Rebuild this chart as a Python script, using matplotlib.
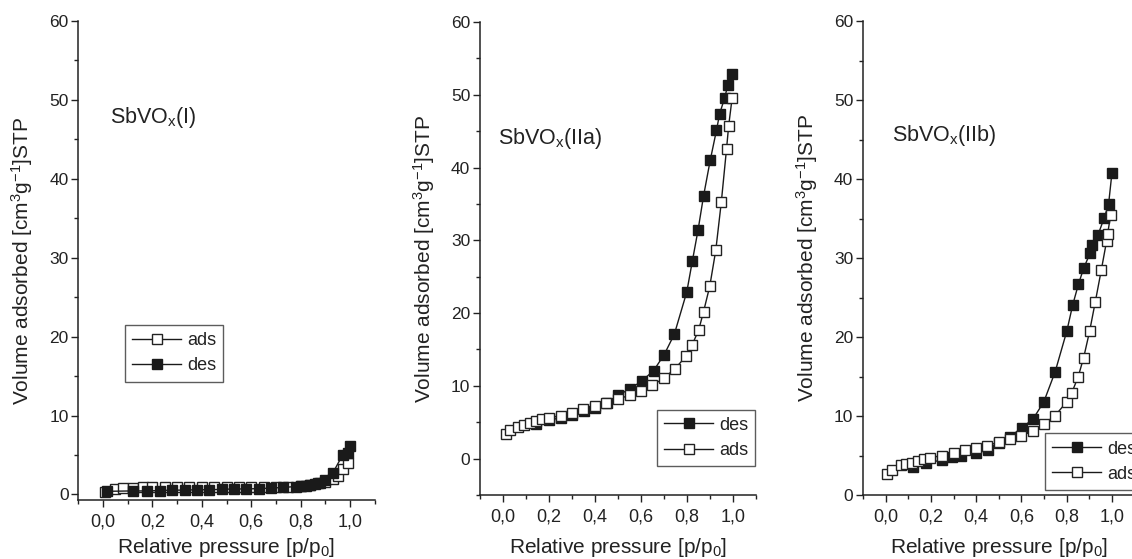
import matplotlib
matplotlib.use("Agg")
import matplotlib.pyplot as plt
from matplotlib.ticker import MultipleLocator, FuncFormatter

plt.rcParams['font.family'] = ['Liberation Sans', 'DejaVu Sans']
plt.rcParams['mathtext.fontset'] = 'custom'
plt.rcParams['mathtext.rm'] = 'Liberation Sans'
plt.rcParams['mathtext.it'] = 'Liberation Sans'
plt.rcParams['mathtext.default'] = 'regular'

# ---------------- data ----------------
# SbVOx(I)
ads_I_x = [0.01, 0.05, 0.08, 0.12, 0.16, 0.2, 0.25, 0.3, 0.35, 0.4, 0.45, 0.5, 0.55, 0.6, 0.65,
           0.7, 0.75, 0.8, 0.84, 0.87, 0.9, 0.93, 0.95, 0.97, 0.99]
ads_I_y = [0.3, 0.7, 0.8, 0.85, 0.9, 0.9, 0.95, 1.0, 1.0, 1.0, 1.0, 1.0, 1.0, 1.0, 1.0,
           1.0, 1.0, 1.1, 1.2, 1.4, 1.6, 1.9, 2.4, 3.2, 4.0]
des_I_x = [0.016, 0.12, 0.18, 0.23, 0.28, 0.33, 0.38, 0.43, 0.48, 0.53, 0.58, 0.63, 0.68, 0.73,
           0.78, 0.8, 0.82, 0.84, 0.86, 0.88, 0.9, 0.93, 0.97, 0.99, 1.0]
des_I_y = [0.4, 0.45, 0.45, 0.5, 0.55, 0.55, 0.6, 0.6, 0.65, 0.7, 0.7, 0.75, 0.8, 0.9,
           1.0, 1.05, 1.1, 1.2, 1.35, 1.5, 1.8, 2.7, 5.0, 5.3, 6.1]

# SbVOx(IIa)
ads_IIa_x = [0.012, 0.032, 0.065, 0.091, 0.119, 0.145, 0.17, 0.2, 0.251, 0.299, 0.348, 0.399,
             0.449, 0.5, 0.551, 0.601, 0.649, 0.699, 0.746, 0.797, 0.822, 0.851, 0.872, 0.899,
             0.925, 0.949, 0.972, 0.981, 0.996]
ads_IIa_y = [3.4, 3.9, 4.4, 4.66, 4.9, 5.15, 5.4, 5.6, 5.9, 6.3, 6.8, 7.2,
             7.7, 8.2, 8.7, 9.23, 10.06, 11.05, 12.3, 14.1, 15.6, 17.7, 20.2, 23.7,
             28.6, 35.2, 42.6, 45.7, 49.5]
des_IIa_x = [0.145, 0.2, 0.25, 0.3, 0.35, 0.4, 0.45, 0.5, 0.551, 0.603, 0.655, 0.701, 0.745,
             0.799, 0.823, 0.848, 0.872, 0.901, 0.928, 0.942, 0.964, 0.978, 0.996]
des_IIa_y = [4.8, 5.3, 5.6, 6.0, 6.5, 7.0, 7.6, 8.7, 9.57, 10.65, 12.1, 14.3, 17.1,
             22.9, 27.1, 31.4, 36.1, 41.0, 45.1, 47.4, 49.6, 51.4, 52.9]

# SbVOx(IIb)
ads_IIb_x = [0.006, 0.03, 0.068, 0.091, 0.115, 0.143, 0.171, 0.196, 0.248, 0.3, 0.35, 0.4,
             0.45, 0.5, 0.55, 0.6, 0.649, 0.699, 0.749, 0.8, 0.822, 0.851, 0.875, 0.901,
             0.926, 0.953, 0.976, 0.981, 0.994]
ads_IIb_y = [2.6, 3.2, 3.75, 3.9, 4.1, 4.35, 4.6, 4.7, 5.0, 5.35, 5.7, 6.0,
             6.25, 6.7, 7.1, 7.5, 8.15, 9.0, 10.05, 11.8, 12.9, 15.0, 17.4, 20.7,
             24.4, 28.5, 32.1, 33.1, 35.4]
des_IIb_x = [0.12, 0.18, 0.248, 0.295, 0.332, 0.401, 0.451, 0.5, 0.55, 0.602, 0.652, 0.699,
             0.749, 0.801, 0.826, 0.852, 0.875, 0.903, 0.913, 0.938, 0.966, 0.985, 1.0]
des_IIb_y = [3.6, 4.1, 4.4, 4.75, 4.9, 5.3, 5.7, 6.6, 7.4, 8.5, 9.65, 11.8,
             15.6, 20.8, 24.0, 26.7, 28.7, 30.6, 31.6, 32.9, 35.1, 36.8, 40.8]

titles = [r'SbVO$_\mathregular{x}$(I)', r'SbVO$_\mathregular{x}$(IIa)', r'SbVO$_\mathregular{x}$(IIb)']
xlabel = r'Relative pressure [p/p$_\mathregular{0}$]'
ylabel = r'Volume adsorbed [cm$^\mathregular{3}$g$^\mathregular{-1}$]STP'

# ---------------- figure ----------------
W, H = 1132, 559
fig = plt.figure(figsize=(W / 100, H / 100), dpi=100)

def px_axes(l, r, t, b):
    return fig.add_axes([l / W, 1 - b / H, (r - l) / W, (b - t) / H])

TXT = '#222222'
axes = [px_axes(78.3, 374.7, 21, 500),
        px_axes(480, 756, 22, 495),
        px_axes(863, 1134.6, 21, 495)]
ylims = [(-0.7, 60), (-5, 60), (0, 60)]

comma = FuncFormatter(lambda v, p: ('%.1f' % v).replace('.', ','))

for ax, yl in zip(axes, ylims):
    ax.set_xlim(-0.1, 1.1)
    ax.set_ylim(*yl)
    ax.spines['top'].set_visible(False)
    ax.spines['right'].set_visible(False)
    for s in ('left', 'bottom'):
        ax.spines[s].set_linewidth(1.1)
        ax.spines[s].set_color(TXT)
    ax.set_xticks([0.0, 0.2, 0.4, 0.6, 0.8, 1.0])
    ax.xaxis.set_major_formatter(comma)
    ax.xaxis.set_minor_locator(MultipleLocator(0.1))
    ax.set_yticks([0, 10, 20, 30, 40, 50, 60])
    ax.yaxis.set_minor_locator(MultipleLocator(5))
    ax.tick_params(which='major', direction='out', length=5, width=1.0, colors=TXT)
    ax.tick_params(which='minor', direction='out', length=3, width=1.0, colors=TXT)
    ax.tick_params(axis='x', which='major', labelsize=13, pad=5)
    ax.tick_params(axis='y', which='major', labelsize=12.5, pad=2)
    ax.patch.set_alpha(0)

mk = dict(marker='s', markersize=7, linewidth=1.0, color='#1a1a1a')
open_kw = dict(mk, markerfacecolor='white', markeredgecolor='#222222', markeredgewidth=1.0)
fill_kw = dict(mk, markerfacecolor='#1a1a1a', markeredgecolor='#1a1a1a')

# Panel I
ax = axes[0]
ax.plot(ads_I_x, ads_I_y, label='ads', **open_kw)
ax.plot(des_I_x, des_I_y, label='des', **fill_kw)
# Panel IIa
ax = axes[1]
ax.plot(des_IIa_x, des_IIa_y, label='des', **fill_kw)
ax.plot(ads_IIa_x, ads_IIa_y, label='ads', **open_kw)
# Panel IIb
ax = axes[2]
ax.plot(des_IIb_x, des_IIb_y, label='des', **fill_kw)
ax.plot(ads_IIb_x, ads_IIb_y, label='ads', **open_kw)

title_pos = [(0.03, 47.8), (-0.02, 44), (0.027, 45.5)]
leg_pos = [(0.158, 0.247), (0.641, 0.061), (0.670, 0.0105)]
ylab_x = [-0.146, -0.156, -0.158]
xlab_y = [-0.075, -0.087, -0.087]

for i, ax in enumerate(axes):
    ax.text(title_pos[i][0], title_pos[i][1], titles[i], fontsize=15.5, color=TXT,
            ha='left', va='center')
    leg = ax.legend(loc='lower left', bbox_to_anchor=leg_pos[i], borderaxespad=0,
                    fontsize=13, frameon=True, fancybox=False, handlelength=2.7,
                    handletextpad=0.33, labelspacing=0.45, borderpad=0.4)
    leg.get_frame().set_edgecolor('#333333')
    leg.get_frame().set_linewidth(1.0)
    for t in leg.get_texts():
        t.set_color(TXT)
    ax.set_ylabel(ylabel, fontsize=15, color=TXT)
    ax.yaxis.set_label_coords(ylab_x[i], 0.5)
    ax.set_xlabel(xlabel, fontsize=15, color=TXT)
    ax.xaxis.set_label_coords(0.5, xlab_y[i])

fig.savefig('out.png', dpi=100)
